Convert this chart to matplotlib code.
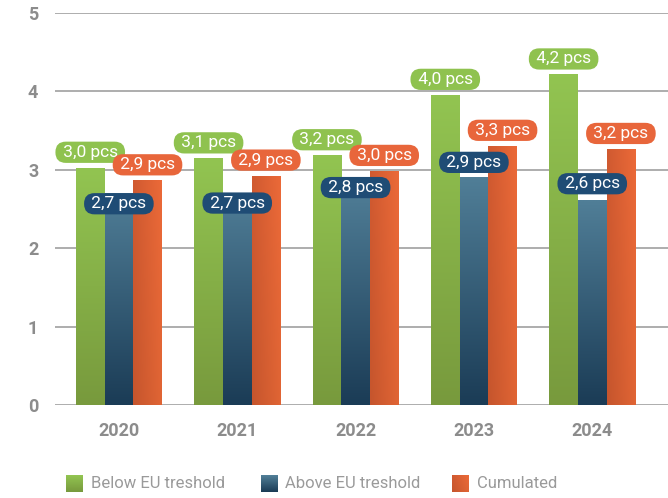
import matplotlib
matplotlib.use("Agg")
import matplotlib.pyplot as plt
from matplotlib.colors import to_rgb
import numpy as np

plt.rcParams['font.family'] = ['Roboto', 'DejaVu Sans']

years = ["2020", "2021", "2022", "2023", "2024"]
below = [3.02, 3.14, 3.18, 3.95, 4.21]
above = [2.70, 2.70, 2.80, 2.90, 2.61]
cumulated = [2.86, 2.92, 2.98, 3.30, 3.26]
below_lbl = ["3,0 pcs", "3,1 pcs", "3,2 pcs", "4,0 pcs", "4,2 pcs"]
above_lbl = ["2,7 pcs", "2,7 pcs", "2,8 pcs", "2,9 pcs", "2,6 pcs"]
cumulated_lbl = ["2,9 pcs", "2,9 pcs", "3,0 pcs", "3,3 pcs", "3,2 pcs"]
legend_names = ["Below EU treshold", "Above EU treshold", "Cumulated"]

# label offset above the bar top, in points (blue ones were nudged by hand in the original)
above_dy = [-7.5, -7, -1.5, 11, 12]

GREEN = ("#92c451", "#789a3d")
BLUE = ("#507e97", "#1b3c56")
ORANGE = ("#e8663a", "#c9582f")

fig = plt.figure(figsize=(6.68, 4.98), dpi=100)
ax = fig.add_axes([0.0823, 0.1867, 0.9177, 0.7872])

w = 0.242
x = np.arange(len(years))


def gradient(top, bottom, n=64, m=16, left=None, right=None):
    t = np.linspace(0, 1, n)[:, None, None]  # 0 top -> 1 bottom
    top = np.array(to_rgb(top))
    bottom = np.array(to_rgb(bottom))
    img = top * (1 - t) + bottom * t
    img = np.repeat(img, m, axis=1)
    if left is not None:
        s = np.linspace(0, 1, m)[None, :, None]
        horiz = np.array(to_rgb(left)) * (1 - s) + np.array(to_rgb(right)) * s
        img = img * 0.35 + np.repeat(horiz, n, axis=0) * 0.65
    return img


def grad_bar(xc, h, img):
    ax.imshow(img, extent=[xc - w / 2, xc + w / 2, 0, h], aspect='auto',
              zorder=2, interpolation='bilinear')


orange_img = gradient(*ORANGE, left="#c4542c", right="#ec6b37")
for i in range(len(years)):
    grad_bar(x[i] - w, below[i], gradient(*GREEN))
    grad_bar(x[i], above[i], gradient(*BLUE))
    grad_bar(x[i] + w, cumulated[i], orange_img)


def pill(xc, y, text, color, dy):
    ax.annotate(" " + text + " ", (xc, y), xytext=(0, dy), textcoords='offset points',
                ha='center', va='center', color='white', fontsize=12.5, zorder=5,
                bbox=dict(boxstyle="round,pad=0.18,rounding_size=0.6",
                          fc=color, ec='none'))


for i in range(len(years)):
    pill(x[i] - w, below[i], below_lbl[i], "#8fc24f", 11.5)
    pill(x[i] + w, cumulated[i], cumulated_lbl[i], "#e8663b", 11.5)
    pill(x[i], above[i], above_lbl[i], "#1f4c75", above_dy[i])

ax.set_xlim(-0.54, 4.64)
ax.set_ylim(0, 5)
ax.set_yticks([0, 1, 2, 3, 4, 5])
ax.yaxis.grid(True, color="#a0a0a0", linewidth=1.2, zorder=0)
ax.set_axisbelow(True)
ax.set_xticks(x)
ax.set_xticklabels(years)
for s in ax.spines.values():
    s.set_visible(False)
ax.tick_params(axis='both', length=0, colors="#8c8c8c", labelsize=13)
ax.tick_params(axis='y', pad=12)
ax.tick_params(axis='x', pad=12)
for lab in ax.get_xticklabels() + ax.get_yticklabels():
    lab.set_fontweight('bold')

# legend: gradient squares + text, laid out like the original
box_x = [66, 261, 452]
text_x = [91, 285, 477]
swatches = [gradient(*GREEN, n=17, m=17), gradient(*BLUE, n=17, m=17),
            gradient(*ORANGE, n=17, m=17, left="#c4542c", right="#ec6b37")]
for bx, tx, img, name in zip(box_x, text_x, swatches, legend_names):
    fig.figimage(img, xo=bx, yo=6, zorder=3)
    fig.text(tx / 668, 14.5 / 498, name, ha='left', va='center',
             fontsize=12, color="#9a9a9a")

fig.savefig("out.png", dpi=100)
